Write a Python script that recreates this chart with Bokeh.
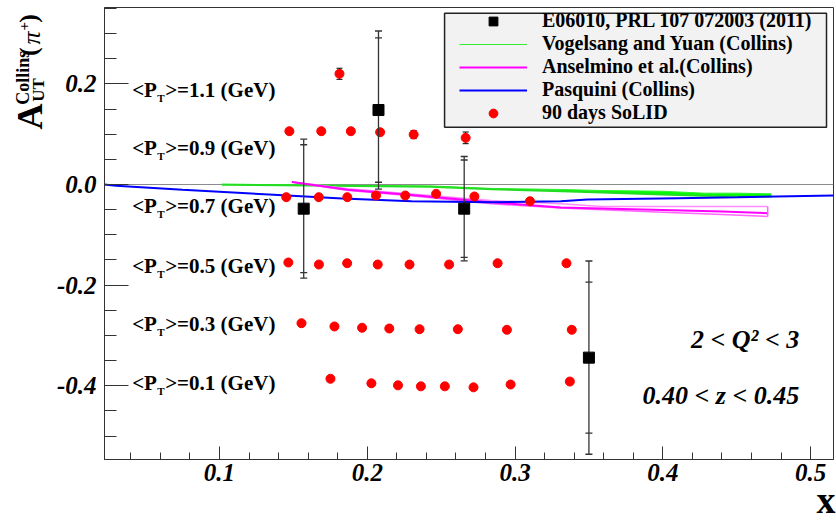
import numpy as np
from bokeh.plotting import figure
from bokeh.layouts import row
from bokeh.models import (Range1d, FixedTicker, PrintfTickFormatter, Legend, LegendItem, Span, Title)
from bokeh.core.properties import value
from bokeh.embed import file_html
from bokeh.resources import INLINE

# ---------------- data ----------------
# E06010 measurement
e06_x = [0.157, 0.2076, 0.2656, 0.350]
e06_y = [-0.048, 0.148, -0.048, -0.344]
e06_stat = [0.127, 0.1435, 0.0967, 0.150]
e06_tot = [0.138, 0.157, 0.1036, 0.192]

# 90 days SoLID projections (shifted per <P_T> bin)
solid_pt11_x = [0.1812]
solid_pt11_y = [0.220]
solid_pt11_e = [0.011]
solid_pt09_x = [0.1473, 0.1689, 0.1889, 0.2087, 0.2314, 0.2666]
solid_pt09_y = [0.1059, 0.1059, 0.1059, 0.1039, 0.0993, 0.0927]
solid_pt09_e = [0.003, 0.003, 0.003, 0.004, 0.008, 0.0116]
solid_pt07_x = [0.1452, 0.1672, 0.1865, 0.2059, 0.2257, 0.2466, 0.2725, 0.3101]
solid_pt07_y = [-0.0252, -0.0252, -0.0252, -0.0219, -0.0219, -0.0185, -0.0238, -0.0332]
solid_pt07_e = [0.003, 0.003, 0.003, 0.003, 0.003, 0.004, 0.004, 0.005]
solid_pt05_x = [0.1466, 0.1673, 0.1864, 0.2071, 0.2286, 0.2554, 0.2882, 0.3348]
solid_pt05_y = [-0.155, -0.159, -0.1564, -0.159, -0.159, -0.159, -0.1564, -0.1564]
solid_pt05_e = [0.003, 0.003, 0.003, 0.003, 0.003, 0.003, 0.004, 0.004]
solid_pt03_x = [0.1555, 0.1778, 0.1965, 0.2149, 0.2354, 0.2613, 0.2945, 0.3384]
solid_pt03_y = [-0.2756, -0.2821, -0.2847, -0.2861, -0.2875, -0.2875, -0.2887, -0.2887]
solid_pt03_e = [0.003, 0.003, 0.003, 0.003, 0.003, 0.003, 0.004, 0.004]
solid_pt01_x = [0.1751, 0.2028, 0.2208, 0.2363, 0.2525, 0.2719, 0.2970, 0.3371]
solid_pt01_y = [-0.386, -0.395, -0.399, -0.401, -0.401, -0.403, -0.3974, -0.3915]
solid_pt01_e = [0.003, 0.003, 0.003, 0.003, 0.003, 0.003, 0.004, 0.004]

# Vogelsang and Yuan (Collins) band
vy_x = [0.1016, 0.1425, 0.2425, 0.2845, 0.3316, 0.3586, 0.3991, 0.428, 0.451, 0.4735]
vy_hi = [0.0006, -0.0004, -0.0028, -0.0078, -0.0099, -0.0119, -0.0133, -0.0172, -0.0172, -0.0185]
vy_lo = [-0.0006, -0.0016, -0.0046, -0.0096, -0.0133, -0.0159, -0.0199, -0.0225, -0.0232, -0.0238]

# Anselmino et al. (Collins) band
an_x = [0.149, 0.187, 0.228, 0.284, 0.331, 0.3586, 0.40, 0.44, 0.471]
an_hi = [0.0050, -0.0085, -0.0185, -0.0318, -0.0384, -0.0437, -0.0437, -0.0437, -0.0437]
an_mid = [0.0050, -0.0103, -0.0203, -0.0352, -0.0457, -0.0477, -0.0507, -0.0536, -0.0570]
an_lo = [0.0050, -0.0119, -0.0219, -0.0383, -0.0467, -0.0503, -0.0550, -0.0596, -0.0636]

# Pasquini (Collins)
pq_x = [0.022, 0.030, 0.075, 0.1335, 0.183, 0.23, 0.284, 0.331, 0.349, 0.41, 0.4505, 0.5155]
pq_y = [0.0, -0.0026, -0.0106, -0.0199, -0.0278, -0.0332, -0.0352, -0.0332, -0.0298, -0.0272, -0.0252, -0.0219]

# text annotations
pt_values = ["1.1", "0.9", "0.7", "0.5", "0.3", "0.1"]
pt_label_y = [0.1878, 0.0721, -0.0437, -0.1624, -0.2779, -0.3935]
pt_label_x = 0.0409
kin_text = ["2 < Q\u00b2 < 3", "0.40 < z < 0.45"]
kin_y = [-0.308, -0.419]
kin_x = 0.4923

x_ticks = [0.1, 0.2, 0.3, 0.4, 0.5]
y_ticks = [-0.4, -0.2, 0.0, 0.2]

legend_labels = ["E06010, PRL 107 072003 (2011)", "Vogelsang and Yuan (Collins)",
                 "Anselmino et al.(Collins)", "Pasquini (Collins)", "90 days SoLID"]

# ---------------- geometry (page pixels) ----------------
PAGE_W, PAGE_H = 836, 521
TITLE_W = 53                  # left strip holding the y-axis title
MAIN_W = PAGE_W - TITLE_W
MAIN_H = PAGE_H
ML, MR, MT = 49, 3, 7
MB = MAIN_H - 459
X0, X1 = 0.0222, 0.5155
Y0, Y1 = -0.5464, 0.3517
FRAME_LEFT = TITLE_W + ML
FW = MAIN_W - ML - MR
FH = MAIN_H - MT - MB


def px_to_x(px):
    return X0 + (px - FRAME_LEFT) / FW * (X1 - X0)


def py_to_y(py):
    return Y1 - (py - MT) / FH * (Y1 - Y0)


p = figure(width=MAIN_W, height=MAIN_H, output_backend="svg", toolbar_location=None,
           x_range=Range1d(X0, X1), y_range=Range1d(Y0, Y1),
           min_border_left=ML, min_border_right=MR, min_border_top=MT, min_border_bottom=MB,
           background_fill_color="white", border_fill_color="white")
p.outline_line_color = "#333333"
p.outline_line_width = 1
p.xgrid.visible = False
p.ygrid.visible = False

minor_x = [round(v, 3) for v in np.arange(0.02, 0.52, 0.02)]
minor_y = [round(v, 3) for v in np.arange(-0.55, 0.36, 0.05)]
p.xaxis.ticker = FixedTicker(ticks=x_ticks, minor_ticks=minor_x)
p.yaxis.ticker = FixedTicker(ticks=y_ticks, minor_ticks=minor_y)
p.xaxis.formatter = PrintfTickFormatter(format="%.1f")
p.yaxis.formatter = PrintfTickFormatter(format="%.1f")
for ax in (p.xaxis[0], p.yaxis[0]):
    ax.major_label_text_font = "Liberation Serif"
    ax.major_label_text_font_style = "bold italic"
    ax.major_label_text_font_size = "25px"
    ax.major_label_text_color = "black"
    ax.axis_line_color = "#333333"
    ax.major_tick_line_color = "#333333"
    ax.minor_tick_line_color = "#333333"
    ax.major_tick_out = 0
    ax.minor_tick_out = 0
p.xaxis.major_tick_in = 13
p.xaxis.minor_tick_in = 7
p.xaxis.major_label_standoff = 4
p.yaxis.major_tick_in = 24
p.yaxis.minor_tick_in = 12
p.yaxis.major_label_standoff = 8

# zero line
p.add_layout(Span(location=0, dimension="width", line_color="#8c8c8c", line_width=1,
                  level="underlay"))

# Vogelsang & Yuan band
p.varea(x=vy_x, y1=vy_lo, y2=vy_hi, fill_color="#00ff00")
vy_line = p.line(vy_x, vy_hi, line_color="#33ee33", line_width=1)
p.line(vy_x, vy_lo, line_color="#22dd22", line_width=2)

# Anselmino band
p.line(an_x, an_hi, line_color="#ff8cff", line_width=1.5)
p.line(an_x, an_lo, line_color="#ff66ff", line_width=1.5)
an_line = p.line(an_x, an_mid, line_color="#ff00ff", line_width=2)
p.segment(x0=an_x[-1:], y0=an_lo[-1:], x1=an_x[-1:], y1=an_hi[-1:], line_color="#ff66ff",
          line_width=1.5)

# Pasquini
pq_line = p.line(pq_x, pq_y, line_color="#0000ff", line_width=2)

# SoLID points with error bars
sx = np.array(solid_pt11_x + solid_pt09_x + solid_pt07_x + solid_pt05_x + solid_pt03_x + solid_pt01_x)
sy = np.array(solid_pt11_y + solid_pt09_y + solid_pt07_y + solid_pt05_y + solid_pt03_y + solid_pt01_y)
se = np.array(solid_pt11_e + solid_pt09_e + solid_pt07_e + solid_pt05_e + solid_pt03_e + solid_pt01_e)
p.segment(x0=sx, y0=sy - se, x1=sx, y1=sy + se, line_color="black", line_width=1)
p.scatter(np.concatenate([sx, sx]), np.concatenate([sy - se, sy + se]), marker="dash",
          size=6, line_color="black", line_width=1)
solid_r = p.scatter(sx, sy, marker="circle", size=9, fill_color="#ff0000", line_color="#ff0000")

# E06010 points
ex = np.array(e06_x)
ey = np.array(e06_y)
es = np.array(e06_stat)
et = np.array(e06_tot)
p.segment(x0=ex, y0=ey - et, x1=ex, y1=ey + et, line_color="#333333", line_width=1.3)
p.scatter(np.concatenate([ex, ex, ex, ex]), np.concatenate([ey - et, ey + et, ey - es, ey + es]),
          marker="dash", size=7, line_color="#333333", line_width=1.3)
e06_r = p.scatter(ex, ey, marker="square", size=11, fill_color="black", line_color="black")

# P_T labels
n = len(pt_values)
p.text(x=[pt_label_x] * n, y=pt_label_y, text=["<P"] * n,
       text_font=value("Liberation Serif"), text_font_style="bold", text_font_size="21px",
       text_baseline="middle", text_align="left", text_color="black")
p.text(x=[pt_label_x] * n, y=pt_label_y, text=["T"] * n,
       text_font=value("Liberation Serif"), text_font_style="bold", text_font_size="11px",
       text_baseline="middle", text_align="left", text_color="black", x_offset=25, y_offset=8)
p.text(x=[pt_label_x] * n, y=pt_label_y, text=[">=%s (GeV)" % v for v in pt_values],
       text_font=value("Liberation Serif"), text_font_style="bold", text_font_size="21px",
       text_baseline="middle", text_align="left", text_color="black", x_offset=33)

# kinematics
p.text(x=[kin_x] * 2, y=kin_y, text=kin_text, text_font=value("Liberation Serif"),
       text_font_style="bold italic", text_font_size="26px", text_baseline="middle",
       text_align="right", text_color="black")

# legend box
p.quad(left=[px_to_x(443)], right=[px_to_x(826)], top=[py_to_y(12.7)], bottom=[py_to_y(126.7)],
       fill_color="#f2f2f2", line_color="#222222", line_width=1.5)

legend = Legend(items=[LegendItem(label=legend_labels[0], renderers=[e06_r]),
                       LegendItem(label=legend_labels[1], renderers=[vy_line]),
                       LegendItem(label=legend_labels[2], renderers=[an_line]),
                       LegendItem(label=legend_labels[3], renderers=[pq_line]),
                       LegendItem(label=legend_labels[4], renderers=[solid_r])],
                location=(457 - FRAME_LEFT, FH - 122 + MT - 2),
                padding=0, margin=0, spacing=0, label_height=22, glyph_height=22,
                glyph_width=68, label_standoff=15,
                background_fill_alpha=0, border_line_alpha=0,
                label_text_font="Liberation Serif", label_text_font_style="bold",
                label_text_font_size="20px", label_text_color="black")
p.add_layout(legend)

# x-axis title, right aligned below the axis
xt = Title(text="x", align="right", vertical_align="top", text_font="Liberation Serif",
           text_font_style="bold", text_font_size="38px", text_color="black")
try:
    xt.offset = -2
except Exception:
    pass
try:
    xt.standoff = -10
except Exception:
    xt.standoff = 0
p.add_layout(xt, "below")

# ---------------- y-axis title strip ----------------
t = figure(width=TITLE_W, height=PAGE_H, output_backend="svg", toolbar_location=None,
           x_range=Range1d(0, TITLE_W), y_range=Range1d(-PAGE_H, 0),
           x_axis_type=None, y_axis_type=None, min_border=0,
           background_fill_color="white", border_fill_color="white")
t.outline_line_color = None
t.xgrid.visible = False
t.ygrid.visible = False
# pieces of  A_UT^Collins(pi^+), centre positions in page pixels
title_parts = ["A", "UT", "Collins", "(", "\u03c0", "+", ")"]
title_cx = [29.5, 37.5, 22, 28.2, 31, 23, 28.2]
title_cy = [125.5, 95, 81, 50.8, 35, 21.5, 12.5]
title_size = ["36px", "17px", "18px", "26px", "26px", "15px", "26px"]
title_style = ["bold", "bold", "bold", "bold", "italic", "bold", "bold"]
for txt, tx, ty, ts, st in zip(title_parts, title_cx, title_cy, title_size, title_style):
    t.text(x=[tx], y=[-ty], text=[txt], angle=np.pi / 2, text_font=value("Liberation Serif"),
           text_font_style=st, text_font_size=ts, text_align="center",
           text_baseline="middle", text_color="black")

layout = row(t, p, spacing=0)
open("out.html", "w").write(file_html(layout, INLINE))
